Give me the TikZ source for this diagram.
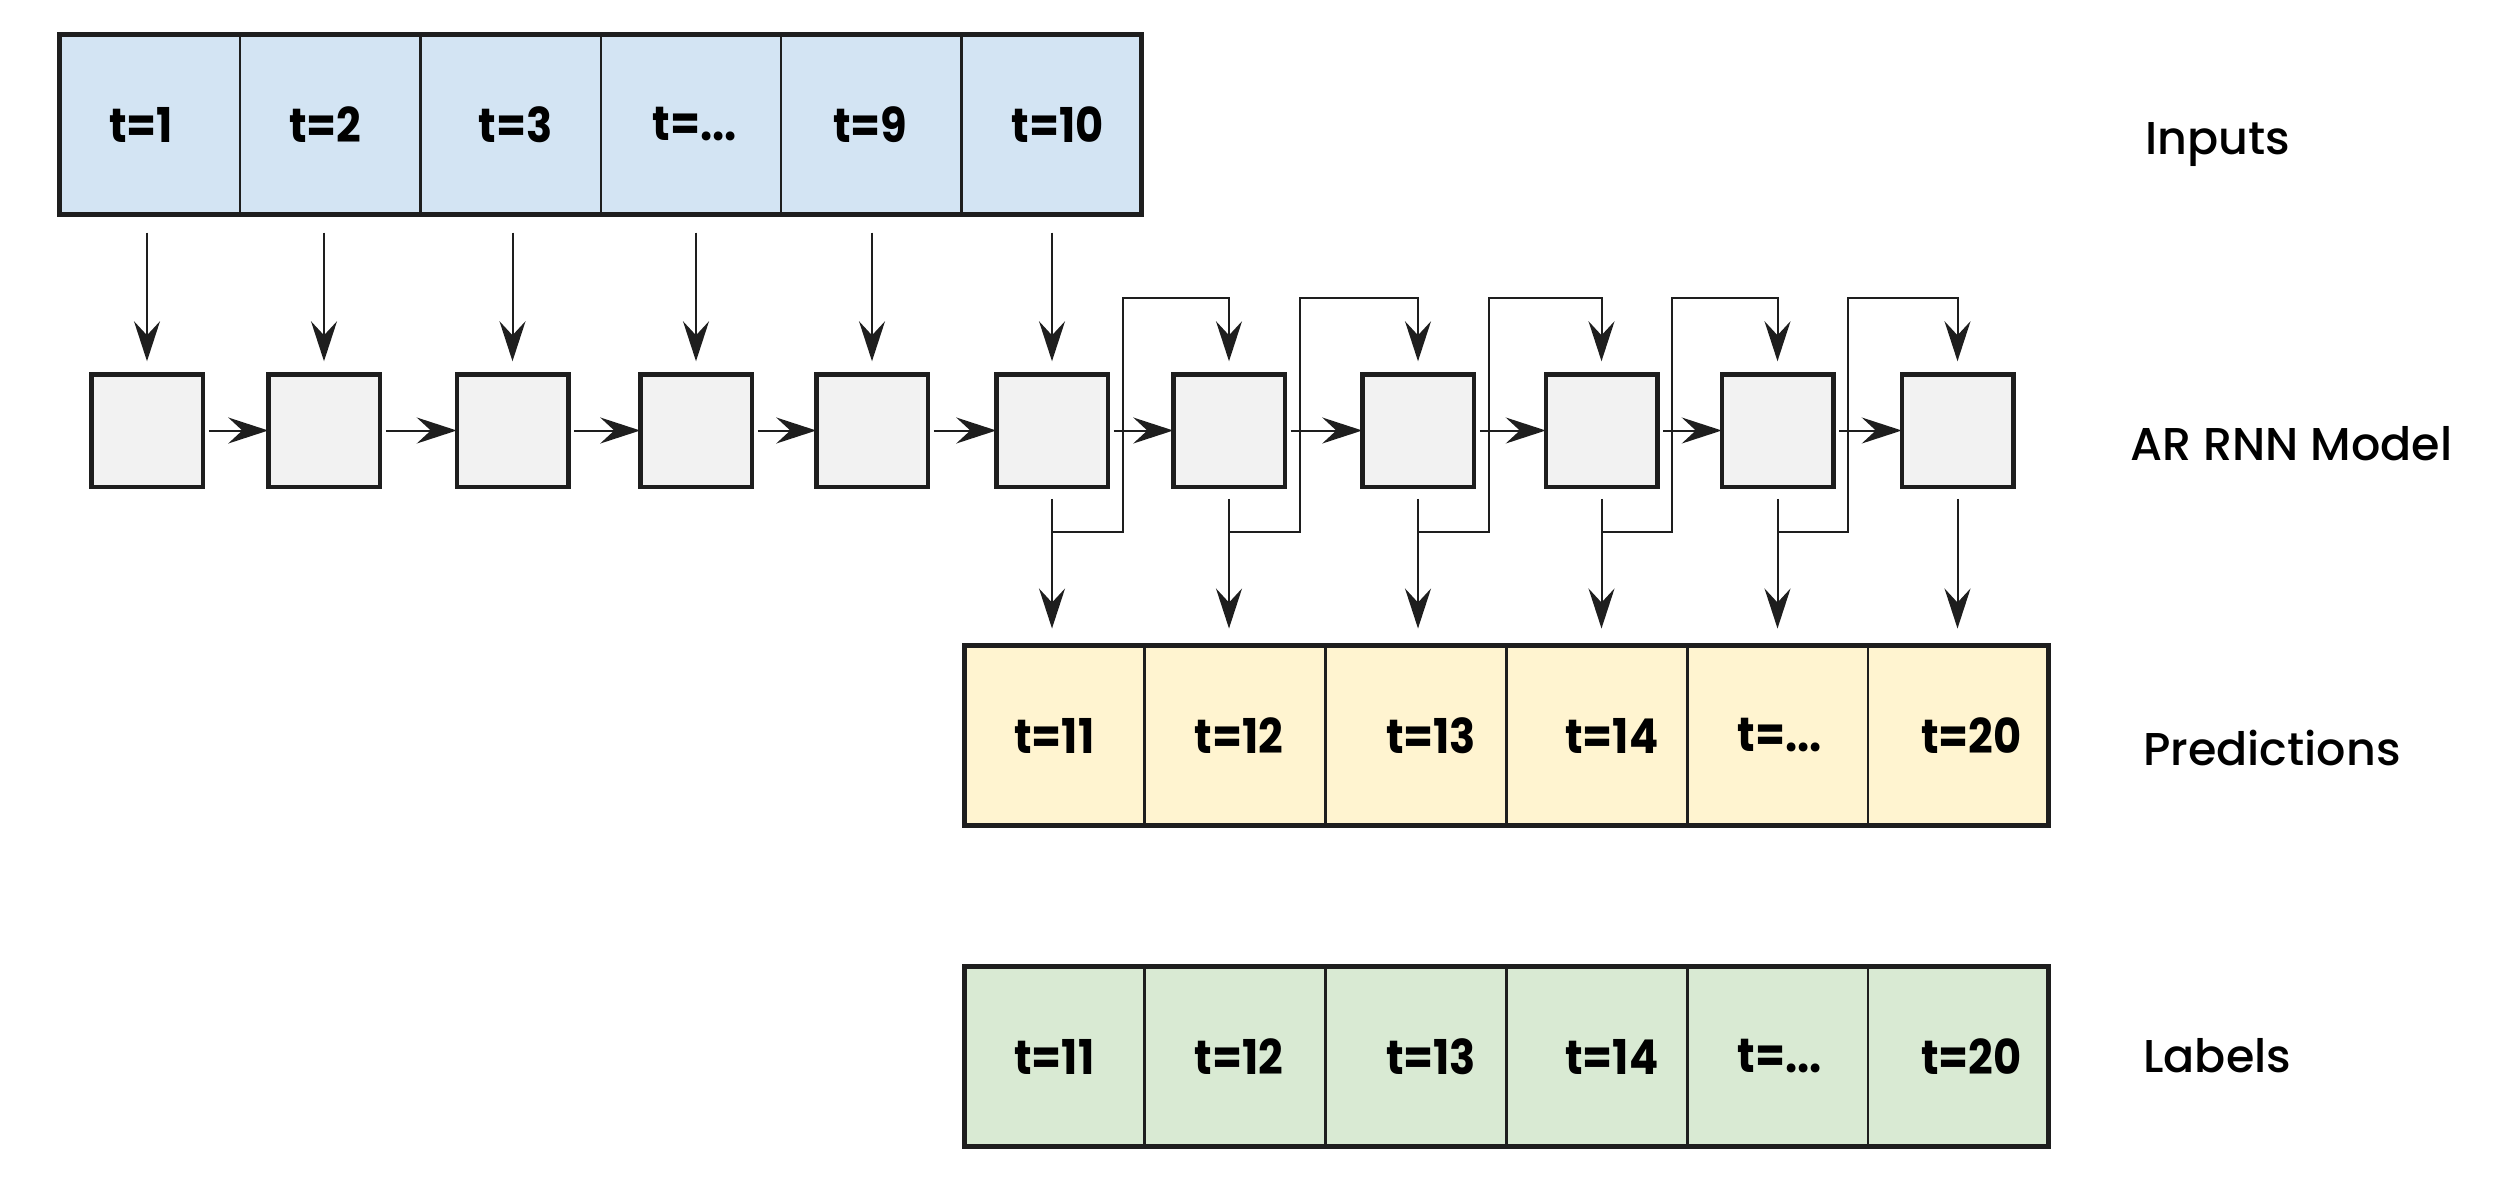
\documentclass[tikz,border=0pt]{standalone}
\usepackage{fontspec}
\setmainfont{Poppins}
\newfontfamily\medfont{Poppins}[UprightFont={* Medium}]
\newfontfamily\cellfont{Poppins}[UprightFont={* Bold},FakeStretch=0.9]
\usetikzlibrary{arrows.meta,calc}
\definecolor{inblue}{HTML}{D3E4F3}
\definecolor{predyellow}{HTML}{FFF4D0}
\definecolor{labgreen}{HTML}{D9EAD3}
\definecolor{boxgray}{HTML}{F2F2F2}
\definecolor{ink}{HTML}{1E1E1E}
\newcommand\mydots{t=.{}.{}.}
\begin{document}
\begin{tikzpicture}[x=1pt,y=-1pt,
  cell/.style={draw=ink,line width=2.5pt,minimum width=180.5pt,minimum height=180pt,inner sep=0pt,outer sep=0pt},
  celltext/.style={font=\fontsize{48}{52}\cellfont,text=black,inner sep=0pt},
  outerbar/.style={draw=ink,line width=5pt},
  mbox/.style={draw=ink,fill=boxgray,line width=4.5pt,minimum width=111.5pt,minimum height=112.5pt,inner sep=0pt,outer sep=0pt},
  arr/.style={draw=ink,line width=2pt,-{Stealth[length=40pt,width=26pt,inset=14pt]}},
  rowlabel/.style={font=\fontsize{46}{50}\medfont,anchor=base west,inner sep=0pt,text=black}
]
\useasboundingbox (0,0) rectangle (2500,1200);

% Inputs bar
\foreach \i/\t/\dx in {1/t=1/-9,2/t=2/-5,3/t=3/5,4/\mydots/4,5/t=9/-1,6/t=10/6}{
  \node[cell,fill=inblue] (in\i) at ({60+180.3*(\i-0.5)},124.5) {};
  \node[celltext] (tin\i) at ($(in\i)+(\dx,0)$) {\t};
}
\draw[outerbar] (in1.north west) rectangle (in6.south east);

% Predictions bar
\foreach \i/\t/\dx in {1/t=11/0,2/t=12/4,3/t=13/15,4/t=14/15,5/\mydots/2,6/t=20/13}{
  \node[cell,fill=predyellow] (p\i) at ({964+180.8*(\i-0.5)},735.5) {};
  \node[celltext] (tp\i) at ($(p\i)+(\dx,0)$) {\t};
}
\draw[outerbar] (p1.north west) rectangle (p6.south east);

% Labels bar
\foreach \i/\t/\dx in {1/t=11/0,2/t=12/4,3/t=13/15,4/t=14/15,5/\mydots/2,6/t=20/13}{
  \node[cell,fill=labgreen] (l\i) at ({964+180.8*(\i-0.5)},1056.5) {};
  \node[celltext] (tl\i) at ($(l\i)+(\dx,0)$) {\t};
}
\draw[outerbar] (l1.north west) rectangle (l6.south east);

% Model boxes
\foreach \i/\x in {1/147,2/324,3/512.5,4/696,5/872,6/1052,7/1229,8/1418,9/1601.5,10/1777.5,11/1957.5}{
  \node[mbox] (m\i) at (\x,430.5) {};
}

% Input arrows
\foreach \i in {1,2,3,4,5,6}{
  \draw[arr] ($(m\i.center |- in\i.south)+(0,18)$) -- ($(m\i.north)+(0,-13)$);
}
% Recurrent arrows
\foreach \i [evaluate=\i as \j using int(\i+1)] in {1,2,3,4,5,6,7,8,9,10}{
  \draw[arr] ($(m\i.east)+(6,0)$) -- (m\j.west);
}
% Output arrows
\foreach \i [evaluate=\i as \k using int(\i-5)] in {6,7,8,9,10,11}{
  \draw[arr] ($(m\i.south)+(0,12)$) -- ($(m\i.center |- p\k.north)+(0,-17)$);
}
% Feedback arrows
\foreach \i [evaluate=\i as \j using int(\i+1)] in {6,7,8,9,10}{
  \draw[arr] ($(m\i.south)+(0,45)$) -| ($(m\i.east)+(15,-133)$) -| ($(m\j.north)+(0,-13)$);
}

% Row labels
\node[rowlabel] (lin) at (2145,154) {Inputs};
\node[rowlabel] (lmod) at (2130,460) {AR RNN Model};
\node[rowlabel] (lpred) at (2143,765) {Predictions};
\node[rowlabel] (llab) at (2143,1072) {Labels};
\end{tikzpicture}
\end{document}
